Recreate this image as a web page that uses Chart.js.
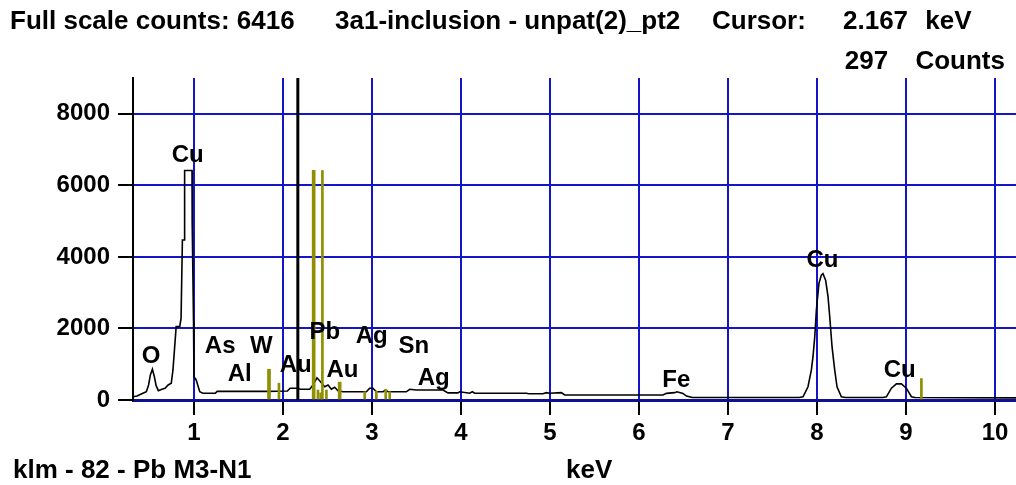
<!DOCTYPE html>
<html>
<head>
<meta charset="utf-8">
<title>EDS spectrum</title>
<script src="https://cdn.jsdelivr.net/npm/chart.js@4.4.1/dist/chart.umd.min.js"></script>
<style>
  html, body { margin: 0; padding: 0; background: #fff; }
  #wrap { position: relative; width: 1016px; height: 485px; overflow: hidden; }
  #wrap canvas { position: absolute; left: 0; top: 0; }
  .txt { position: absolute; font: bold 26px 'Liberation Sans', Arial, sans-serif; line-height: 26px; color: #000; white-space: pre; }
</style>
</head>
<body>
<div id="wrap">
  <canvas id="spec" width="1016" height="485"></canvas>
  <div class="txt" id="fullScale" style="left:10px; top:7px"></div>
  <div class="txt" id="specName" style="left:335px; top:7px"></div>
  <div class="txt" style="left:712px; top:7px">Cursor:</div>
  <div class="txt" id="cursorKev" style="left:843px; top:7px; word-spacing:10px"></div>
  <div class="txt" id="cursorCts" style="right:11px; top:47px; word-spacing:20px"></div>
  <div class="txt" id="klmInfo" style="left:13px; top:456px"></div>
  <div class="txt" style="left:566px; top:456px">keV</div>
</div>

<script>
// ---------- spectrum data ----------
const specName = "3a1-inclusion - unpat(2)_pt2";
const fullScale = 6416;
const cursorKeV = 2.167;
const cursorCounts = 297;
const klmText = "klm - 82 - Pb M3-N1";

// traced spectrum (keV / counts)
const energy = [
  0.315, 0.36, 0.42, 0.465, 0.49, 0.51, 0.533, 0.555, 0.575, 0.60,
  0.64, 0.675, 0.71, 0.745, 0.764, 0.80, 0.84, 0.855, 0.87, 0.893,
  0.895, 0.978, 0.98, 0.995, 1.0, 1.025, 1.065, 1.10, 1.24, 1.26,
  1.82, 2.05, 2.08, 2.15, 2.20, 2.30, 2.337, 2.382, 2.412, 2.443,
  2.469, 2.506, 2.544, 2.581, 2.618, 2.674, 2.937, 2.974, 3.011, 3.049,
  3.124, 3.154, 3.18, 3.386, 3.424, 3.499, 3.798, 3.854, 3.966, 3.985,
  4.098, 4.128, 4.154, 4.735, 4.76, 4.921, 4.96, 4.997, 5.128, 5.165,
  6.27, 6.308, 6.401, 6.427, 6.494, 6.533, 6.60, 7.80, 7.843, 7.899,
  7.937, 7.955, 7.975, 7.993, 8.022, 8.049, 8.067, 8.097, 8.124, 8.143,
  8.169, 8.199, 8.225, 8.274, 8.32, 8.74, 8.78, 8.836, 8.892, 8.948,
  9.004, 9.061, 9.10, 10.24
];
const counts = [
  90, 110, 180, 230, 420, 700, 860, 650, 400, 260,
  300, 330, 420, 470, 840, 2050, 2050, 2280, 4470, 4470,
  6416, 6416, 4960, 2190, 650, 560, 230, 190, 190, 240,
  240, 250, 330, 330, 300, 300, 420, 620, 540, 450,
  370, 420, 300, 355, 260, 230, 230, 330, 330, 230,
  230, 280, 230, 230, 300, 280, 280, 200, 200, 230,
  190, 230, 190, 190, 175, 175, 205, 190, 205, 140,
  140, 185, 205, 230, 185, 110, 70, 70, 90, 370,
  840, 1210, 1770, 2510, 3260, 3490, 3530, 3350, 2890, 2330,
  1490, 840, 370, 90, 70, 70, 90, 330, 450, 450,
  330, 90, 70, 60
];

// KLM marker lines for Pb
const wideLineKeV = [1.843, 2.345, 2.637];
const wideLineCounts = [860, 6416, 500];
const thinLineKeV = [1.955, 2.393, 2.424, 2.443, 2.488, 2.918, 3.049, 3.154, 3.199, 9.173];
const thinLineCounts = [470, 280, 200, 6416, 280, 230, 250, 300, 230, 600];

// element labels (centre keV, baseline counts)
const peakNames = ["Cu", "O", "As", "W", "Al", "Au", "Pb", "Au", "Ag", "Sn", "Ag", "Fe", "Cu", "Cu"];
const peakKeV = [0.929, 0.517, 1.294, 1.757, 1.513, 2.143, 2.469, 2.669, 2.997, 3.469, 3.694, 6.42, 8.062, 8.929];
const peakCounts = [6650, 1040, 1300, 1300, 540, 790, 1700, 650, 1600, 1300, 420, 370, 3720, 650];

const xTicks = [1, 2, 3, 4, 5, 6, 7, 8, 9, 10];
const yTicks = [0, 2000, 4000, 6000, 8000];

// ---------- header / footer text ----------
document.getElementById("fullScale").textContent = "Full scale counts: " + fullScale;
document.getElementById("specName").textContent = specName;
document.getElementById("cursorKev").textContent = cursorKeV.toFixed(3) + " keV";
document.getElementById("cursorCts").textContent = cursorCounts + " Counts";
document.getElementById("klmInfo").textContent = klmText;

const FONT = "'Liberation Sans', Arial, sans-serif";
const GRID_BLUE = "#1414c8";
const OLIVE = "#8f8f00";

// element names written above their peaks
const peakLabels = {
  id: "peakLabels",
  afterDatasetsDraw(chart) {
    const { ctx, scales } = chart;
    ctx.save();
    ctx.font = "bold 24px " + FONT;
    ctx.fillStyle = "#000";
    ctx.textAlign = "center";
    ctx.textBaseline = "alphabetic";
    peakNames.forEach((name, i) => {
      ctx.fillText(name, scales.x.getPixelForValue(peakKeV[i]), scales.y.getPixelForValue(peakCounts[i]));
    });
    ctx.restore();
  }
};

new Chart(document.getElementById("spec"), {
  type: "line",
  data: {
    datasets: [
      {
        label: "cursor",
        data: [{ x: cursorKeV, y: 0 }, { x: cursorKeV, y: 9000 }],
        borderColor: "#000",
        borderWidth: 3,
        pointRadius: 0,
        order: 0
      },
      {
        type: "bar",
        label: "Pb wide",
        data: wideLineKeV.map((k, i) => ({ x: k, y: wideLineCounts[i] })),
        backgroundColor: OLIVE,
        barThickness: 3,
        grouped: false,
        order: 1
      },
      {
        type: "bar",
        label: "Pb thin",
        data: thinLineKeV.map((k, i) => ({ x: k, y: thinLineCounts[i] })),
        backgroundColor: OLIVE,
        barThickness: 2,
        grouped: false,
        order: 1
      },
      {
        label: "spectrum",
        data: energy.map((e, i) => ({ x: e, y: counts[i] })),
        borderColor: "#000",
        borderWidth: 1.6,
        pointRadius: 0,
        tension: 0,
        order: 2
      }
    ]
  },
  options: {
    responsive: false,
    animation: false,
    layout: { padding: { top: 78, left: 0, right: 0, bottom: 0 } },
    plugins: { legend: { display: false }, tooltip: { enabled: false } },
    scales: {
      x: {
        type: "linear",
        min: 0.315,
        max: 10.236,
        offset: false,
        afterBuildTicks: (s) => { s.ticks = xTicks.map(v => ({ value: v })); },
        afterFit: (s) => { s.height = 85; },
        grid: { offset: false, color: GRID_BLUE, lineWidth: 2, tickColor: "#000", tickLength: 15, tickWidth: 2 },
        border: { color: "#101090", width: 3 },
        ticks: { color: "#000", padding: 4, maxRotation: 0, font: { family: FONT, size: 24, weight: "bold" } }
      },
      y: {
        min: 0,
        max: 9000,
        afterBuildTicks: (s) => { s.ticks = yTicks.map(v => ({ value: v })); },
        afterFit: (s) => { s.width = 133; },
        grid: { color: GRID_BLUE, lineWidth: 2, tickColor: "#000", tickLength: 15, tickWidth: 2 },
        border: { color: "#000", width: 2 },
        ticks: { color: "#000", padding: 8, callback: (v) => String(v), font: { family: FONT, size: 24, weight: "bold" } }
      }
    }
  },
  plugins: [peakLabels]
});
</script>
</body>
</html>
